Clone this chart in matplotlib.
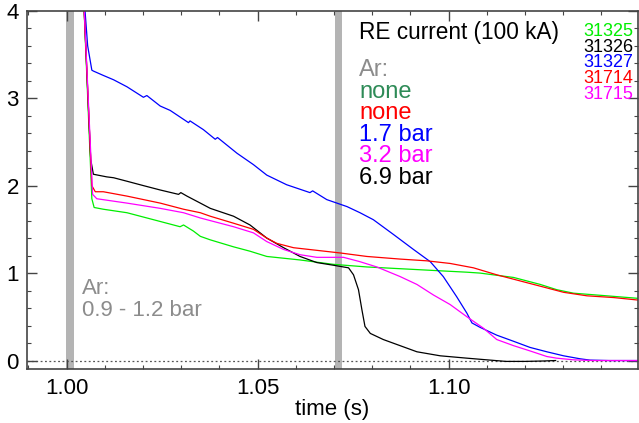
import matplotlib
matplotlib.use('Agg')
import matplotlib.pyplot as plt
from matplotlib.ticker import MultipleLocator, FormatStrFormatter

plt.rcParams['font.family'] = ['Liberation Sans', 'DejaVu Sans']

# RE current (100 kA) vs time (s)
t_31325 = [1.0043, 1.0066, 1.0072, 1.0096, 1.0158, 1.0245, 1.0297, 1.0306, 1.0332,
           1.0350, 1.0376, 1.0437, 1.0480, 1.0524, 1.0611, 1.0698, 1.0786, 1.0873,
           1.0960, 1.1048, 1.1082, 1.1117, 1.1170, 1.1240, 1.1283, 1.1327, 1.1414, 1.1499]
i_31325 = [4.3, 1.85, 1.75, 1.73, 1.69, 1.59, 1.53, 1.55, 1.48,
           1.42, 1.38, 1.30, 1.25, 1.19, 1.15, 1.10, 1.07, 1.05,
           1.03, 1.01, 1.00, 0.98, 0.95, 0.87, 0.81, 0.77, 0.74, 0.71]

t_31326 = [1.0043, 1.0063, 1.0070, 1.0105, 1.0123, 1.0158, 1.0201, 1.0245, 1.0293,
           1.0299, 1.0315, 1.0350, 1.0376, 1.0437, 1.0480, 1.0524, 1.0568, 1.0611,
           1.0655, 1.0698, 1.0738, 1.0751, 1.0764, 1.0773, 1.0781, 1.0795, 1.0829,
           1.0873, 1.0917, 1.0978, 1.1048, 1.1100, 1.1150, 1.1200, 1.1250, 1.1280]
i_31326 = [4.3, 2.3, 2.13, 2.10, 2.09, 2.05, 2.00, 1.95, 1.90,
           1.92, 1.88, 1.80, 1.74, 1.65, 1.55, 1.40, 1.29, 1.19,
           1.12, 1.09, 1.06, 0.98, 0.81, 0.58, 0.39, 0.31, 0.24,
           0.17, 0.10, 0.054, 0.027, 0.008, -0.01, -0.01, -0.005, 0.0]

t_31327 = [1.0043, 1.0055, 1.0066, 1.0070, 1.0096, 1.0123, 1.0158, 1.0201, 1.0210,
           1.0245, 1.0271, 1.0319, 1.0323, 1.0358, 1.0389, 1.0395, 1.0446, 1.0489,
           1.0524, 1.0576, 1.0637, 1.0644, 1.0681, 1.0734, 1.0768, 1.0803, 1.0856,
           1.0908, 1.0952, 1.0986, 1.1021, 1.1048, 1.1061, 1.1082, 1.1126, 1.1170,
           1.1213, 1.1257, 1.1301, 1.1344, 1.1370, 1.1420, 1.1499]
i_31327 = [4.3, 3.6, 3.32, 3.31, 3.26, 3.21, 3.13, 3.01, 3.03,
           2.91, 2.86, 2.72, 2.74, 2.64, 2.53, 2.55, 2.37, 2.24,
           2.12, 2.01, 1.92, 1.94, 1.84, 1.76, 1.69, 1.61, 1.44,
           1.27, 1.13, 0.96, 0.73, 0.54, 0.43, 0.38, 0.29, 0.22,
           0.15, 0.10, 0.054, 0.02, 0.005, 0.0, 0.0]

t_31714 = [1.0043, 1.0066, 1.0075, 1.0096, 1.0158, 1.0245, 1.0306, 1.0350, 1.0376,
           1.0437, 1.0489, 1.0524, 1.0550, 1.0594, 1.0655, 1.0716, 1.0786, 1.0873,
           1.0943, 1.1004, 1.1065, 1.1126, 1.1170, 1.1240, 1.1301, 1.1362, 1.1432, 1.1499]
i_31714 = [4.3, 2.0, 1.93, 1.93, 1.88, 1.80, 1.73, 1.69, 1.65,
           1.57, 1.50, 1.40, 1.34, 1.29, 1.26, 1.23, 1.19, 1.16,
           1.14, 1.11, 1.06, 0.98, 0.93, 0.85, 0.78, 0.74, 0.72, 0.69]

t_31715 = [1.0043, 1.0068, 1.0079, 1.0158, 1.0245, 1.0306, 1.0350, 1.0376, 1.0437,
           1.0489, 1.0524, 1.0568, 1.0611, 1.0655, 1.0725, 1.0768, 1.0812, 1.0873,
           1.0917, 1.0960, 1.1004, 1.1048, 1.1091, 1.1126, 1.1170, 1.1213, 1.1257,
           1.1283, 1.1327, 1.1380, 1.1499]
i_31715 = [4.3, 1.9, 1.85, 1.80, 1.74, 1.69, 1.63, 1.60, 1.53,
           1.46, 1.36, 1.27, 1.21, 1.18, 1.18, 1.13, 1.07, 0.96,
           0.87, 0.75, 0.64, 0.50, 0.37, 0.24, 0.17, 0.11, 0.046,
           0.027, 0.008, 0.0, 0.0]

shots = ['31325', '31326', '31327', '31714', '31715']
shot_colors = ['#00ee00', 'black', '#0000ff', '#ff0000', '#ff00ff']
ar_labels = ['none', 'none', '1.7 bar', '3.2 bar', '6.9 bar']
ar_colors = ['#2e8b57', '#ff0000', '#0000ff', '#ff00ff', 'black']
valve_times = [(0.9998, 1.0018), (1.0703, 1.0721)]

fig = plt.figure(figsize=(6.39, 4.23), dpi=100)
ax = fig.add_axes([0.0427, 0.127, 0.9553, 0.8477])

for t0, t1 in valve_times:
    ax.axvspan(t0, t1, color='#b4b4b4', lw=0, zorder=0)
ax.axhline(0, color='#555555', ls=(0, (1.5, 2)), lw=0.9, zorder=1)

curves = [(t_31325, i_31325), (t_31326, i_31326), (t_31327, i_31327),
          (t_31714, i_31714), (t_31715, i_31715)]
for (t, i), c in zip(curves, shot_colors):
    ax.plot(t, i, color=c, lw=0.9, zorder=2)

ax.set_xlim(0.9897, 1.1495)
ax.set_ylim(-0.1, 4.0)
ax.xaxis.set_major_locator(MultipleLocator(0.05))
ax.xaxis.set_minor_locator(MultipleLocator(0.01))
ax.xaxis.set_major_formatter(FormatStrFormatter('%.2f'))
ax.yaxis.set_major_locator(MultipleLocator(1))
ax.yaxis.set_minor_locator(MultipleLocator(0.2))
ax.tick_params(which='both', direction='in', top=True, right=True,
               color='#444444', labelsize=16)
ax.tick_params(which='major', length=7, width=1, pad=6)
ax.tick_params(which='minor', length=3, width=0.8)
for s in ax.spines.values():
    s.set_color('#444444')
    s.set_linewidth(1.2)
ax.set_xlabel('time (s)', fontsize=16, labelpad=0)

W, H = 639.0, 423.0
fig.text(359 / W, 1 - 32.7 / H, 'RE current (100 kA)', fontsize=16.3,
         va='center', ha='left', color='black')
fig.text(359 / W, 1 - 70 / H, 'Ar:', fontsize=17, va='center', ha='left',
         color='#8c8c8c')
for k, (lab, c) in enumerate(zip(ar_labels, ar_colors)):
    fig.text(359 / W, 1 - (91.7 + 21.6 * k) / H, lab, fontsize=17,
             va='center', ha='left', color=c)
for k, (lab, c) in enumerate(zip(shots, shot_colors)):
    fig.text(633 / W, 1 - (31.7 + 15.6 * k) / H, lab, fontsize=13,
             va='center', ha='right', color=c)
fig.text(81.7 / W, 1 - 288 / H, 'Ar:', fontsize=16, va='center', ha='left',
         color='#8c8c8c')
fig.text(81.7 / W, 1 - 310.8 / H, '0.9 - 1.2 bar', fontsize=16, va='center',
         ha='left', color='#8c8c8c')

fig.savefig('out.png', dpi=100)
